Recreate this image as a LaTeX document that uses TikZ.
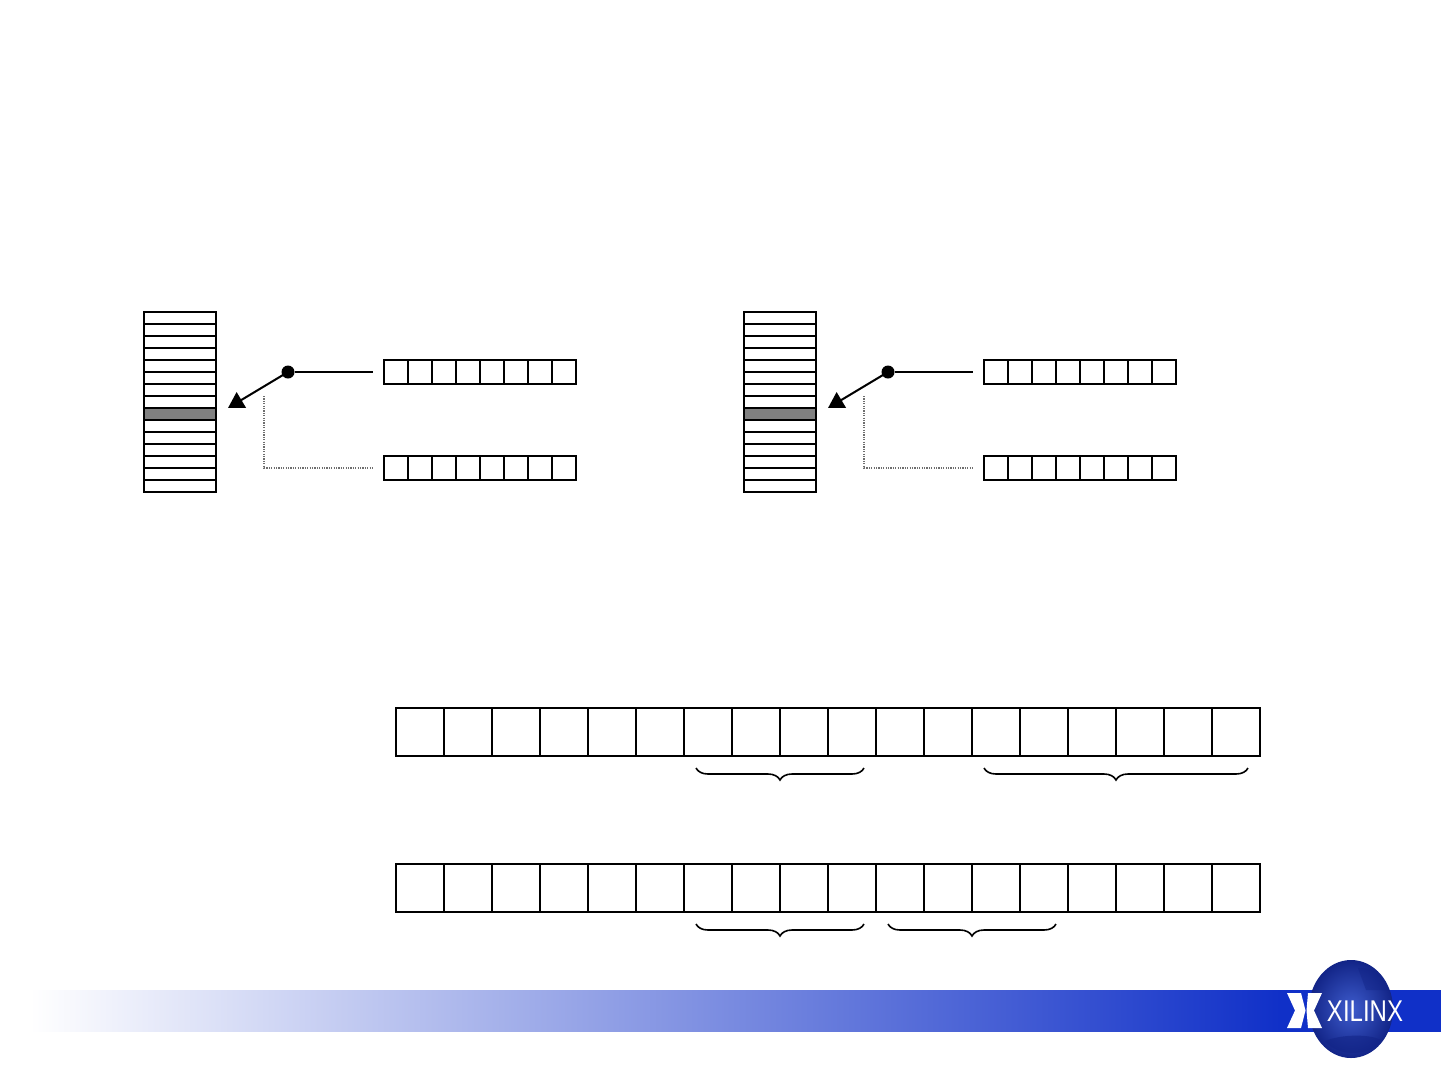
\documentclass[tikz,border=0pt]{standalone}
\usepackage{fontspec}
\setmainfont{Liberation Sans}
\usetikzlibrary{arrows.meta,decorations.pathreplacing,calc}
\definecolor{barblue}{RGB}{16,48,200}
\definecolor{globehi}{RGB}{62,92,205}
\definecolor{globelo}{RGB}{18,36,135}
\definecolor{dotgray}{RGB}{110,110,110}
\pgfdeclarehorizontalshading{footerband}{100bp}{color(0bp)=(white); color(25bp)=(white); color(69.3bp)=(barblue); color(100bp)=(barblue)}
\tikzset{
  cell/.style={draw=black,line width=1.8pt,fill=white,inner sep=0pt,outer sep=0pt,anchor=north west},
  stackrow/.style={cell,minimum width=72pt,minimum height=12pt},
  hirow/.style={stackrow,fill=black!50},
  wordcell/.style={cell,minimum width=24pt,minimum height=24pt},
  bigcell/.style={cell,minimum width=48pt,minimum height=48pt},
  junction/.style={circle,fill=black,inner sep=0pt,outer sep=0pt,minimum size=13pt},
  tapline/.style={line width=1.8pt},
  arrowline/.style={line width=2pt,-{Triangle[length=15.6pt,width=18pt]}},
  dotline/.style={line width=1.2pt,dotgray,dash pattern=on 1.2pt off 1.2pt},
  bracepath/.style={line width=1.6pt,decorate,decoration={brace,mirror,amplitude=12pt,raise=0pt}},
}
\newcommand{\memgroup}[2]{%
  \foreach \r in {0,...,14}{
    \pgfmathtruncatemacro{\yy}{312+12*\r}
    \ifnum\r=8
      \node[hirow] (#2s\r) at (#1+144,\yy) {};
    \else
      \node[stackrow] (#2s\r) at (#1+144,\yy) {};
    \fi
  }
  \foreach \c in {0,...,7}{
    \node[wordcell] (#2a\c) at (#1+384+24*\c,360) {};
    \node[wordcell] (#2b\c) at (#1+384+24*\c,456) {};
  }
  \node[junction] (#2j) at (#1+288,372) {};
  \coordinate (#2tip) at (#1+228,408);
  \coordinate (#2sw) at (#1+373,372);
  \coordinate (#2dstart) at (#1+264,396);
  \coordinate (#2dcorner) at (#1+264,468);
  \coordinate (#2dend) at (#1+373,468);
  \draw[tapline] (#2j) -- (#2sw);
  \draw[arrowline] (#2j.center) -- (#2tip);
  \draw[dotline] (#2dstart) -- (#2dcorner) -- (#2dend);
}
\begin{document}
\begin{tikzpicture}[x=1pt,y=-1pt]
\useasboundingbox (0,0) rectangle (1441,1080);
\fill[white] (0,0) rectangle (1441,1080);

% footer band
\shade[shading=footerband] (30,990) rectangle (1441,1031);

% globe
\shade[inner color=globehi,outer color=globelo] (1351,1009) ellipse [x radius=42,y radius=49];
\fill[globelo,opacity=.6] (1325,1041) .. controls (1342,1034) and (1370,1034) .. (1381,1040) .. controls (1372,1056) and (1338,1058) .. (1325,1041) -- cycle;
\fill[globelo,opacity=.45] (1358,968) .. controls (1374,966) and (1386,980) .. (1388,990) -- (1366,990) -- cycle;

% logo
\fill[white] (1287,993) -- (1301,993) -- (1305.5,1010.5) -- (1301,1028) -- (1287,1028) -- (1295,1010.5) -- cycle;
\fill[white] (1322,993) -- (1308,993) -- (1306.5,1010.5) -- (1308,1028) -- (1322,1028) -- (1314,1010.5) -- cycle;
\node[white,font=\fontsize{30}{30}\selectfont,inner sep=0pt,xscale=.80] (brand) at (1365,1011) {XILINX};

% upper groups
\memgroup{0}{p}
\memgroup{600}{q}

% register rows
\foreach \c in {0,...,17}{
  \node[bigcell] (ra\c) at (396+48*\c,708) {};
  \node[bigcell] (rb\c) at (396+48*\c,864) {};
}

% braces
\coordinate (b1l) at (696,768); \coordinate (b1r) at (864,768);
\coordinate (b2l) at (984,768); \coordinate (b2r) at (1248,768);
\coordinate (b3l) at (696,924); \coordinate (b3r) at (864,924);
\coordinate (b4l) at (888,924); \coordinate (b4r) at (1056,924);
\draw[bracepath] (b1l) -- (b1r);
\draw[bracepath] (b2l) -- (b2r);
\draw[bracepath] (b3l) -- (b3r);
\draw[bracepath] (b4l) -- (b4r);
\end{tikzpicture}
\end{document}
